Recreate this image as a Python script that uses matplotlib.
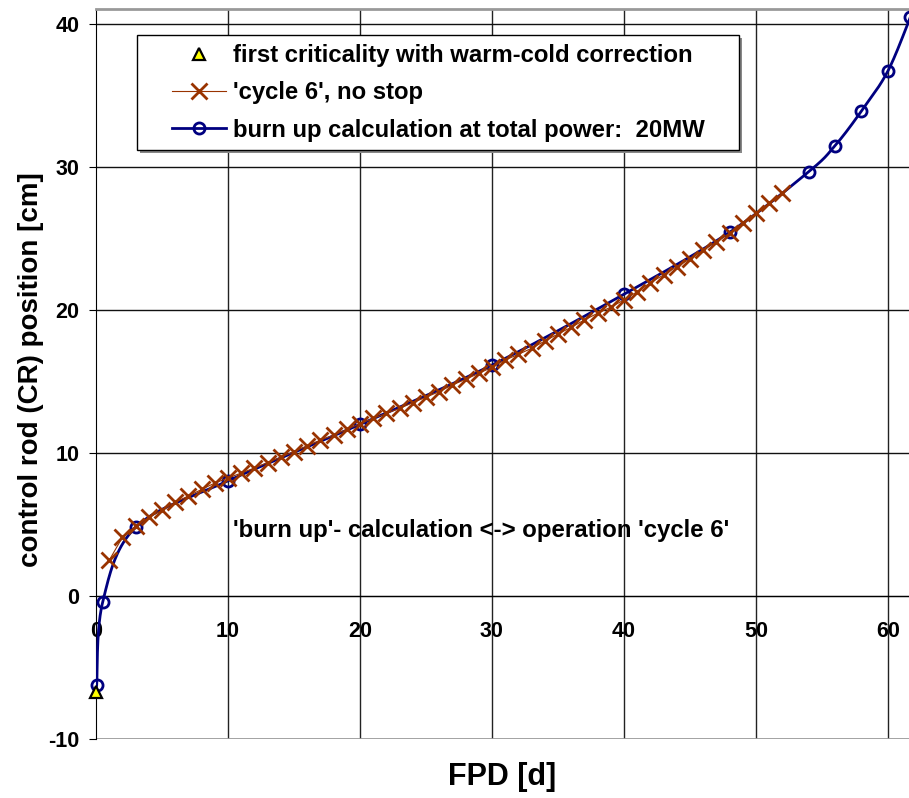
import numpy as np
import matplotlib
matplotlib.use("Agg")
import matplotlib.pyplot as plt
from matplotlib.patches import Rectangle
from matplotlib.lines import Line2D

plt.rcParams['font.family'] = ['Liberation Sans', 'DejaVu Sans']
plt.rcParams['font.weight'] = 'bold'
plt.rcParams['axes.unicode_minus'] = False

# first criticality (warm-cold corrected)
crit_x = [0.0]
crit_y = [-6.7]

# operation 'cycle 6', no stop (daily values)
cycle_x = list(range(1, 53))
cycle_y = [2.5, 4.1, 4.9, 5.5, 6.0, 6.55, 7.0, 7.45, 7.9, 8.25,
           8.6, 8.95, 9.33, 9.7, 10.1, 10.5, 10.9, 11.25, 11.65, 12.05,
           12.42, 12.77, 13.12, 13.52, 13.9, 14.29, 14.76, 15.15, 15.57, 15.99,
           16.5, 16.9, 17.32, 17.83, 18.32, 18.79, 19.3, 19.77, 20.2, 20.7,
           21.28, 21.91, 22.45, 23.03, 23.57, 24.2, 24.78, 25.36, 26.11, 26.76,
           27.46, 28.16]

# burn up calculation at 20 MW
burn_x = [0.05, 0.5, 3, 10, 20, 30, 40, 48, 54, 56, 58, 60, 61.7]
burn_y = [-6.25, -0.45, 4.8, 8.05, 12.0, 16.15, 21.1, 25.43, 29.67, 31.5, 33.92, 36.71, 40.47]

x_ticks = [0, 10, 20, 30, 40, 50, 60]
y_ticks = [-10, 0, 10, 20, 30, 40]

W, H = 909, 798


def px(x, y):
    # pixel position -> figure fraction
    return x / W, 1 - y / H


def smooth(xs, ys, n=40):
    # excel-like smoothed line (bezier through the points)
    p = np.column_stack([xs, ys]).astype(float)
    p = np.vstack([p[0], p, p[-1]])
    t = np.linspace(0, 1, n)[:, None]
    segs = []
    for i in range(1, len(p) - 2):
        p0, p1, p2, p3 = p[i - 1], p[i], p[i + 1], p[i + 2]
        c1 = p1 + (p2 - p0) / 6
        c2 = p2 - (p3 - p1) / 6
        segs.append((1 - t) ** 3 * p1 + 3 * (1 - t) ** 2 * t * c1
                    + 3 * (1 - t) * t ** 2 * c2 + t ** 3 * p2)
    s = np.vstack(segs)
    return s[:, 0], s[:, 1]


fig = plt.figure(figsize=(W / 100, H / 100), dpi=100)
ax = fig.add_axes([96 / W, 1 - 739 / H, (W - 96) / W, (739 - 9) / H])
ax.set_xlim(0, 61.6)
ax.set_ylim(-10, 41.05)

# grid
for xv in x_ticks[1:]:
    ax.axvline(xv, color='#222222', lw=1, zorder=1)
for yv in y_ticks[1:]:
    ax.axhline(yv, color='#111111', lw=1, zorder=1)
ax.axhline(-10, color='#999999', lw=2, zorder=1)

ax.spines['right'].set_visible(False)
ax.spines['top'].set_color('#999999')
ax.spines['top'].set_linewidth(2)
ax.spines['left'].set_color('black')
ax.spines['bottom'].set_position(('data', 0))
ax.spines['bottom'].set_color('black')

ax.set_xticks(x_ticks)
ax.set_yticks(y_ticks)
ax.tick_params(axis='x', length=0, pad=18, labelsize=15.5)
ax.tick_params(axis='y', length=5, direction='out', pad=7, labelsize=15.5)

sx, sy = smooth(burn_x, burn_y)
ax.plot(sx, sy, color='#000080', lw=2, zorder=3)
ax.plot(burn_x, burn_y, ls='none', marker='o', ms=8, mfc='none', mec='#000080',
        mew=2, zorder=4, clip_on=False)
ax.plot(cycle_x, cycle_y, color='#993300', lw=0.8, marker='x', ms=11, mew=2,
        zorder=5)
ax.plot(crit_x, crit_y, ls='none', marker='^', ms=8, mfc='#ffff00', mec='black',
        mew=1.6, zorder=6, clip_on=False)

ax.text(29.2, 4.6, "'burn up'- calculation <-> operation 'cycle 6'",
        fontsize=17.3, ha='center', va='center', zorder=7)

# legend box with shadow
x0, y0 = px(137, 150)
x1, y1 = px(739, 35)
fig.patches.append(Rectangle((x0 + 3 / W, y0 - 3 / H), x1 - x0, y1 - y0,
                             transform=fig.transFigure, facecolor='#888888',
                             edgecolor='none', zorder=8))
fig.patches.append(Rectangle((x0, y0), x1 - x0, y1 - y0, transform=fig.transFigure,
                             facecolor='white', edgecolor='black', lw=1, zorder=9))

handles = [
    Line2D([], [], ls='none', marker='^', ms=8, mfc='#ffff00', mec='black', mew=1.6),
    Line2D([], [], color='#993300', lw=0.8, marker='x', ms=11, mew=2),
    Line2D([], [], color='#000080', lw=2, marker='o', ms=8, mfc='none',
           mec='#000080', mew=2),
]
labels = ['first criticality with warm-cold correction',
          "'cycle 6', no stop",
          'burn up calculation at total power:  20MW']
leg = fig.legend(handles, labels, loc='upper left', bbox_to_anchor=px(172, 44),
                 frameon=False, fontsize=17.2, borderpad=0, borderaxespad=0,
                 handlelength=2.25, handletextpad=0.3, labelspacing=0.6)
leg.set_zorder(10)

fig.text(*px(31, 370), 'control rod (CR) position [cm]', rotation=90,
         fontsize=20, ha='center', va='center')
fig.text(*px(502, 777), 'FPD [d]', fontsize=22, ha='center', va='center')

fig.savefig('out.png', dpi=100)
